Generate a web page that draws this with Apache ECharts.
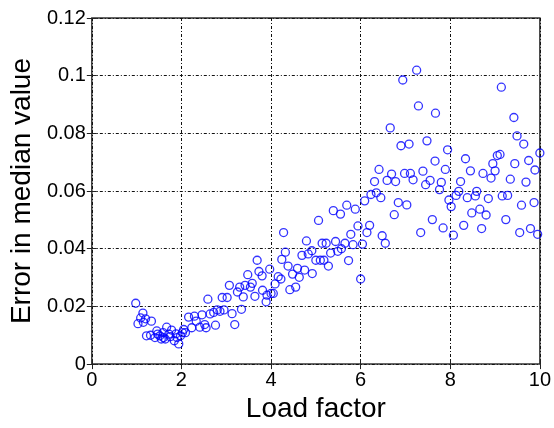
<!DOCTYPE html>
<html>
<head>
<meta charset="utf-8">
<script src="https://cdn.jsdelivr.net/npm/echarts@6/dist/echarts.min.js"></script>
<style>
    html, body { margin: 0; padding: 0; background: #fff; }
    #chart { width: 554px; height: 428px; }
</style>
</head>
<body>
<div id="chart"></div>
<script>
// load factor (x) and error in median value (y)
const loadFactor = [
    0.98, 1.03, 1.09, 1.14, 1.15, 1.2, 1.33, 1.22, 1.31, 1.41, 1.45, 1.47, 1.52, 1.55, 1.59, 1.6,
    1.67, 1.64, 1.72, 1.75, 1.78, 1.84, 1.88, 1.9, 1.94, 1.98, 2.02, 2.05, 2.09, 2.16,
    2.23, 2.29, 2.33, 2.41, 2.46, 2.52, 2.55, 2.59, 2.64, 2.72, 2.76, 2.8, 2.86, 2.91,
    2.95, 3.02, 3.07, 3.13, 3.19, 3.25, 3.3, 3.34, 3.38, 3.42, 3.48, 3.54, 3.58, 3.64,
    3.69, 3.73, 3.8, 3.81, 3.89, 3.91, 3.97, 4.0, 4.05, 4.09, 4.16, 4.22, 4.24, 4.28,
    4.32, 4.38, 4.42, 4.48, 4.55, 4.59, 4.63, 4.69, 4.75, 4.79, 4.83, 4.91, 4.92, 5.0,
    5.06, 5.1, 5.14, 5.18, 5.23, 5.28, 5.33, 5.39, 5.44, 5.49, 5.55, 5.57, 5.65, 5.69,
    5.73, 5.78, 5.83, 5.88, 5.94, 6.0, 6.04, 6.09, 6.14, 6.2, 6.23, 6.31, 6.35, 6.41,
    6.45, 6.48, 6.55, 6.59, 6.66, 6.69, 6.75, 6.78, 6.84, 6.9, 6.94, 6.98, 7.03, 7.08,
    7.11, 7.17, 7.25, 7.29, 7.34, 7.39, 7.45, 7.48, 7.55, 7.6, 7.66, 7.67, 7.76, 7.8,
    7.84, 7.89, 7.94, 7.97, 8.02, 8.07, 8.13, 8.19, 8.23, 8.3, 8.34, 8.38, 8.45, 8.48,
    8.56, 8.59, 8.66, 8.7, 8.73, 8.8, 8.85, 8.91, 8.95, 9.0, 9.05, 9.11, 9.14, 9.16,
    9.24, 9.28, 9.34, 9.42, 9.44, 9.49, 9.55, 9.59, 9.64, 9.69, 9.75, 9.79, 9.87, 9.89,
    9.95, 10.0
];
const medianError = [
    0.0211, 0.014, 0.016, 0.0177, 0.0145, 0.0157, 0.0149, 0.0098, 0.010, 0.0092, 0.0115, 0.0104, 0.0098, 0.0087, 0.0109, 0.0092,
    0.0128, 0.0087, 0.0104, 0.0095, 0.0118, 0.0081, 0.0105, 0.0092, 0.007, 0.0098, 0.0109, 0.012, 0.0109, 0.0163,
    0.0126, 0.0166, 0.0149, 0.0128, 0.0171, 0.0137, 0.0126, 0.0225, 0.0174, 0.0179, 0.0135, 0.0188, 0.0183, 0.0231,
    0.0188, 0.0231, 0.0273, 0.0175, 0.0137, 0.025, 0.0267, 0.019, 0.0233, 0.0273, 0.031, 0.0267, 0.028, 0.0235,
    0.036, 0.0321, 0.0306, 0.0256, 0.0216, 0.0239, 0.0329, 0.0245, 0.0245, 0.0278, 0.0303, 0.0295, 0.0363, 0.0456,
    0.0388, 0.034, 0.0258, 0.0312, 0.0267, 0.0332, 0.0301, 0.0377, 0.0326, 0.0427, 0.0382, 0.0393, 0.0314, 0.036,
    0.0498, 0.036, 0.0419, 0.036, 0.0419, 0.034, 0.0385, 0.0532, 0.0425, 0.0391, 0.052, 0.040, 0.0419, 0.0551,
    0.0359, 0.045, 0.0414, 0.0537, 0.0479, 0.0295, 0.0416, 0.0566, 0.0456, 0.0481, 0.0588, 0.0633, 0.0594, 0.0675,
    0.0577, 0.0445, 0.0419, 0.0637, 0.0819, 0.0659, 0.0518, 0.0633, 0.056, 0.0757, 0.0985, 0.0661, 0.0552, 0.0763,
    0.0661, 0.0639, 0.1019, 0.0895, 0.0456, 0.0669, 0.0622, 0.0774, 0.0637, 0.0501, 0.0704, 0.087, 0.0605, 0.063,
    0.0472, 0.0675, 0.0743, 0.0569, 0.0546, 0.0447, 0.0585, 0.0599, 0.0633, 0.0481, 0.0712, 0.0577, 0.067, 0.0524,
    0.0583, 0.0599, 0.0537, 0.047, 0.0661, 0.0517, 0.0574, 0.0645, 0.0695, 0.067, 0.0723, 0.0727, 0.096, 0.0583,
    0.0501, 0.0585, 0.0641, 0.0855, 0.0695, 0.0791, 0.0456, 0.0551, 0.0763, 0.0631, 0.0706, 0.047, 0.056, 0.0673,
    0.045, 0.0732
];
const xTickLabels = ['0', '2', '4', '6', '8', '10'];
const yTickLabels = ['0', '0.02', '0.04', '0.06', '0.08', '0.1', '0.12'];

const FONT = 'Liberation Sans, Arial, sans-serif';

const AXIS_COMMON = {
    axisLine: { show: false },
    axisTick: {
        show: true,
        inside: true,
        length: 5,
        lineStyle: { color: '#222', width: 1 }
    },
    splitLine: {
        show: true,
        lineStyle: { color: '#111', width: 1, type: [3, 2, 1, 2] }
    },
    axisLabel: {
        color: '#000',
        fontSize: 20,
        fontFamily: FONT
    },
    nameTextStyle: {
        color: '#000',
        fontSize: 28,
        fontFamily: FONT
    }
};

// plain copies for the top / right frame ticks
const frameAxis = {
    axisLine: { show: false },
    axisTick: AXIS_COMMON.axisTick,
    axisLabel: { show: false },
    splitLine: { show: false }
};

const chart = echarts.init(document.getElementById('chart'), null, { renderer: 'canvas' });

chart.setOption({
    animation: false,
    backgroundColor: '#fff',
    grid: {
        left: 89,
        right: 12,
        top: 18,
        bottom: 56,
        show: true,
        borderColor: '#333',
        borderWidth: 1.5,
        backgroundColor: 'transparent'
    },
    xAxis: [
        {
            ...AXIS_COMMON,
            type: 'value',
            min: 0,
            max: 10,
            interval: 2,
            name: 'Load factor',
            nameLocation: 'middle',
            nameGap: 26,
            axisLabel: {
                ...AXIS_COMMON.axisLabel,
                margin: 6,
                formatter: v => xTickLabels[Math.round(v / 2)]
            }
        },
        {
            ...frameAxis,
            type: 'value',
            position: 'top',
            min: 0,
            max: 10,
            interval: 2
        }
    ],
    yAxis: [
        {
            ...AXIS_COMMON,
            type: 'value',
            min: 0,
            max: 0.12,
            interval: 0.02,
            name: 'Error in median value',
            nameLocation: 'middle',
            nameGap: 52,
            axisLabel: {
                ...AXIS_COMMON.axisLabel,
                margin: 6,
                formatter: v => yTickLabels[Math.round(v / 0.02)]
            }
        },
        {
            ...frameAxis,
            type: 'value',
            position: 'right',
            min: 0,
            max: 0.12,
            interval: 0.02
        }
    ],
    series: [
        {
            type: 'scatter',
            symbol: 'circle',
            symbolSize: 8,
            silent: true,
            itemStyle: {
                color: 'rgba(0,0,0,0)',
                borderColor: '#0000ff',
                borderWidth: 1.3
            },
            data: loadFactor.map((x, i) => [x, medianError[i]])
        }
    ]
});
</script>
</body>
</html>
